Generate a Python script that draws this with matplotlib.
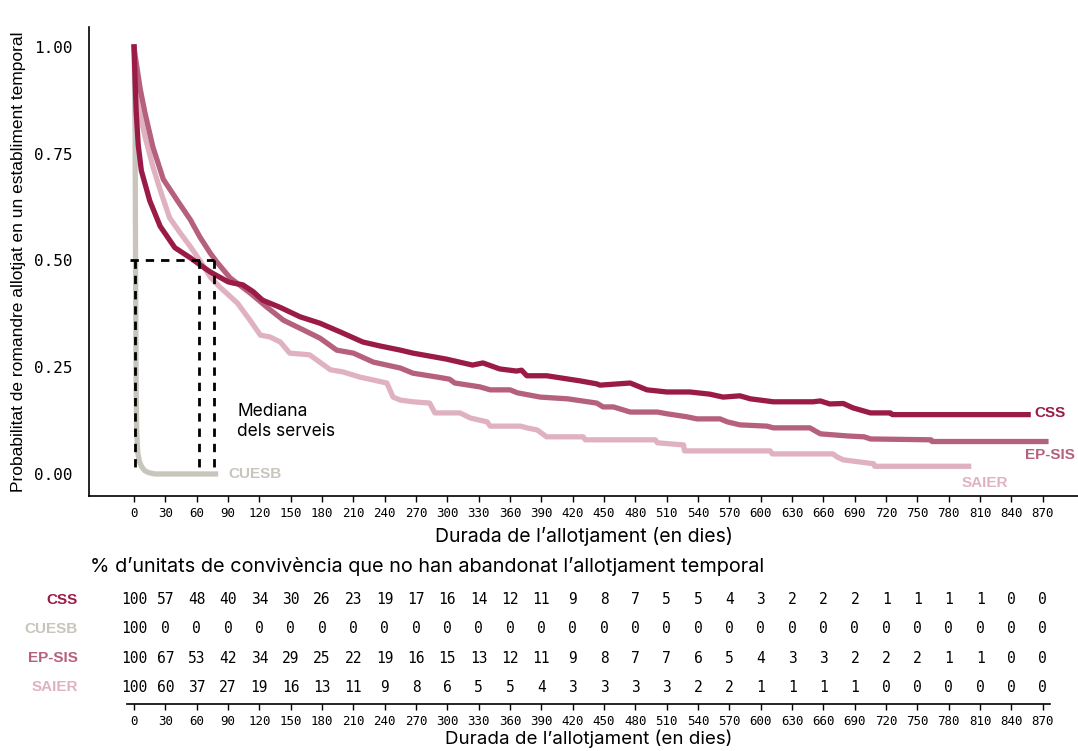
import matplotlib
matplotlib.use('Agg')
import matplotlib.pyplot as plt
import numpy as np

# Kaplan-Meier style survival curves per service (days, probability)
css_days = [0, 1, 2, 4, 7, 15, 25, 39, 54, 63, 73, 90, 95, 104, 114, 123, 140, 159,
            178, 197, 219, 235, 255, 267, 299, 324, 334, 350, 366, 371, 376, 395,
            427, 443, 446, 475, 491, 510, 532, 551, 564, 580, 590, 612, 650, 657,
            666, 679, 688, 705, 724, 726, 856]
css_prob = [1.0, 0.92, 0.85, 0.77, 0.71, 0.64, 0.58, 0.53, 0.506, 0.49, 0.473, 0.45,
            0.447, 0.443, 0.427, 0.407, 0.39, 0.368, 0.353, 0.333, 0.309, 0.30, 0.29,
            0.283, 0.269, 0.255, 0.26, 0.246, 0.241, 0.243, 0.23, 0.23, 0.218, 0.211,
            0.208, 0.213, 0.197, 0.192, 0.192, 0.187, 0.18, 0.183, 0.176, 0.169,
            0.169, 0.171, 0.164, 0.165, 0.155, 0.143, 0.143, 0.139, 0.139]

epsis_days = [0, 1, 6, 10.5, 18, 28, 41, 54, 63, 73, 79, 92, 111, 127, 143, 159, 178,
              194, 210, 229, 255, 267, 290, 302, 307, 331, 341, 360, 367, 389, 415,
              443, 449, 459, 475, 501, 510, 529, 539, 561, 568, 580, 606, 612, 647,
              657, 683, 699, 705, 763, 764, 873]
epsis_prob = [1.0, 0.98, 0.90, 0.845, 0.766, 0.69, 0.642, 0.595, 0.555, 0.517, 0.497,
              0.459, 0.424, 0.391, 0.36, 0.341, 0.318, 0.29, 0.283, 0.262, 0.248, 0.236,
              0.227, 0.222, 0.213, 0.204, 0.197, 0.197, 0.19, 0.18, 0.176, 0.166, 0.157,
              0.157, 0.145, 0.145, 0.141, 0.134, 0.129, 0.129, 0.122, 0.115, 0.112,
              0.108, 0.108, 0.094, 0.089, 0.087, 0.082, 0.08, 0.076, 0.076]

saier_days = [0, 4, 10.5, 18, 25, 34, 44, 54, 63, 73, 82, 99, 111, 121, 130, 140, 149,
              168, 188, 200, 216, 229, 242, 248, 255, 267, 283, 288, 312, 322, 338,
              341, 370, 376, 386, 395, 430, 432, 499, 501, 526, 527, 609, 611, 669,
              673, 679, 708, 709, 799]
saier_prob = [1.0, 0.86, 0.79, 0.72, 0.665, 0.60, 0.565, 0.532, 0.50, 0.461, 0.438,
              0.40, 0.36, 0.325, 0.321, 0.309, 0.283, 0.279, 0.244, 0.239, 0.227, 0.22,
              0.213, 0.18, 0.173, 0.169, 0.166, 0.143, 0.143, 0.131, 0.122, 0.112,
              0.112, 0.108, 0.103, 0.087, 0.087, 0.08, 0.08, 0.073, 0.068, 0.054,
              0.054, 0.047, 0.047, 0.04, 0.033, 0.024, 0.018, 0.018]

cuesb_days = [0, 1, 1.5, 2, 2.5, 3.5, 5, 7, 10, 14, 20, 78]
cuesb_prob = [1.0, 0.8, 0.45, 0.2, 0.1, 0.05, 0.03, 0.018, 0.008, 0.003, 0.0, 0.0]

# medians of the services
median_days = [1, 62, 77]

# table: % of households still housed, every 30 days
table_days = list(range(0, 871, 30))
services = ['CSS', 'CUESB', 'EP-SIS', 'SAIER']
css_pct = [100, 57, 48, 40, 34, 30, 26, 23, 19, 17, 16, 14, 12, 11, 9, 8, 7, 5, 5, 4,
           3, 2, 2, 2, 1, 1, 1, 1, 0, 0]
cuesb_pct = [100] + [0] * 29
epsis_pct = [100, 67, 53, 42, 34, 29, 25, 22, 19, 16, 15, 13, 12, 11, 9, 8, 7, 7, 6, 5,
             4, 3, 3, 2, 2, 2, 1, 1, 0, 0]
saier_pct = [100, 60, 37, 27, 19, 16, 13, 11, 9, 8, 6, 5, 5, 4, 3, 3, 3, 3, 2, 2, 1, 1,
             1, 1, 0, 0, 0, 0, 0, 0]

colors = {'CSS': '#9b1b48', 'CUESB': '#c8c5bc', 'EP-SIS': '#b5607c', 'SAIER': '#e0b2c0'}

mono = 'DejaVu Sans Mono'
sans = 'Inter'

fig = plt.figure(figsize=(10.78, 7.51), dpi=100)
ax = fig.add_axes([0.0826, 0.3396, 0.9174, 0.6245])

lw = 3.8
ax.plot(cuesb_days, cuesb_prob, color=colors['CUESB'], lw=lw, solid_joinstyle='round')
ax.plot(saier_days, saier_prob, color=colors['SAIER'], lw=lw, solid_joinstyle='round')
ax.plot(epsis_days, epsis_prob, color=colors['EP-SIS'], lw=lw, solid_joinstyle='round')
ax.plot(css_days, css_prob, color=colors['CSS'], lw=lw, solid_joinstyle='round')

# median guides
ax.plot([-4, median_days[-1]], [0.5, 0.5], color='black', lw=2, ls=(0, (3, 2.5)))
for d in median_days:
    ax.plot([d, d], [0.5, 0.017], color='black', lw=2, ls=(0, (3, 2.5)))
ax.text(99, 0.122, 'Mediana\ndels serveis', fontsize=12.5, family=sans,
        va='center', ha='left', linespacing=1.25)

ax.text(862, 0.143, 'CSS', color=colors['CSS'], fontsize=11, fontweight='bold',
        family='Liberation Sans', va='center', ha='left')
ax.text(853, 0.044, 'EP-SIS', color=colors['EP-SIS'], fontsize=11, fontweight='bold',
        family='Liberation Sans', va='center', ha='left')
ax.text(792, -0.02, 'SAIER', color=colors['SAIER'], fontsize=11, fontweight='bold',
        family='Liberation Sans', va='center', ha='left')
ax.text(90, 0.0, 'CUESB', color=colors['CUESB'], fontsize=11, fontweight='bold',
        family='Liberation Sans', va='center', ha='left')

ax.set_xlim(-43.1, 903.7)
ax.set_ylim(-0.0515, 1.0468)
ax.set_xticks(table_days)
ax.set_xticklabels([str(d) for d in table_days], family=mono, fontsize=9)
ax.set_yticks([0, 0.25, 0.5, 0.75, 1.0])
ax.set_yticklabels(['0.00', '0.25', '0.50', '0.75', '1.00'], family=mono, fontsize=11.5)
ax.tick_params(axis='y', length=0, pad=12)
ax.tick_params(axis='x', length=4, width=1, pad=4)
for side in ('top', 'right'):
    ax.spines[side].set_visible(False)
for side in ('left', 'bottom'):
    ax.spines[side].set_linewidth(1.2)
ax.set_xlabel("Durada de l\u2019allotjament (en dies)", family=sans, fontsize=14, labelpad=5)
ax.set_ylabel('Probabilitat de romandre allotjat en un establiment temporal',
              family='Liberation Sans', fontsize=12.5, labelpad=6)

# table of households still housed
fig.text(90 / 1078, 1 - 566 / 751,
         "% d\u2019unitats de conviv\u00e8ncia que no han abandonat l\u2019allotjament temporal",
         family=sans, fontsize=14.3, va='center', ha='left')

ax2 = fig.add_axes([127 / 1078, 1 - 704 / 751, 923 / 1078, 119 / 751])
ax2.set_xlim(-6.7, 876.9)
ax2.set_ylim(-0.586, 3.517)
rows = [css_pct, cuesb_pct, epsis_pct, saier_pct]
for i, (name, vals) in enumerate(zip(services, rows)):
    y = 3 - i
    for d, v in zip(table_days, vals):
        ax2.text(d, y, str(v), family=mono, fontsize=10.5, ha='center', va='center')
    fig.text(78 / 1078, 1 - (600 + 29 * i) / 751, name, color=colors[name],
             fontsize=11, fontweight='bold', family='Liberation Sans',
             ha='right', va='center')
ax2.set_yticks([])
ax2.set_xticks(table_days)
ax2.set_xticklabels([str(d) for d in table_days], family=mono, fontsize=9)
ax2.tick_params(axis='x', length=4, width=1, pad=4)
for side in ('top', 'right', 'left'):
    ax2.spines[side].set_visible(False)
ax2.spines['bottom'].set_linewidth(1.2)
ax2.set_xlabel("Durada de l\u2019allotjament (en dies)", family=sans, fontsize=13.5, labelpad=1)

fig.savefig('out.png', dpi=100)
